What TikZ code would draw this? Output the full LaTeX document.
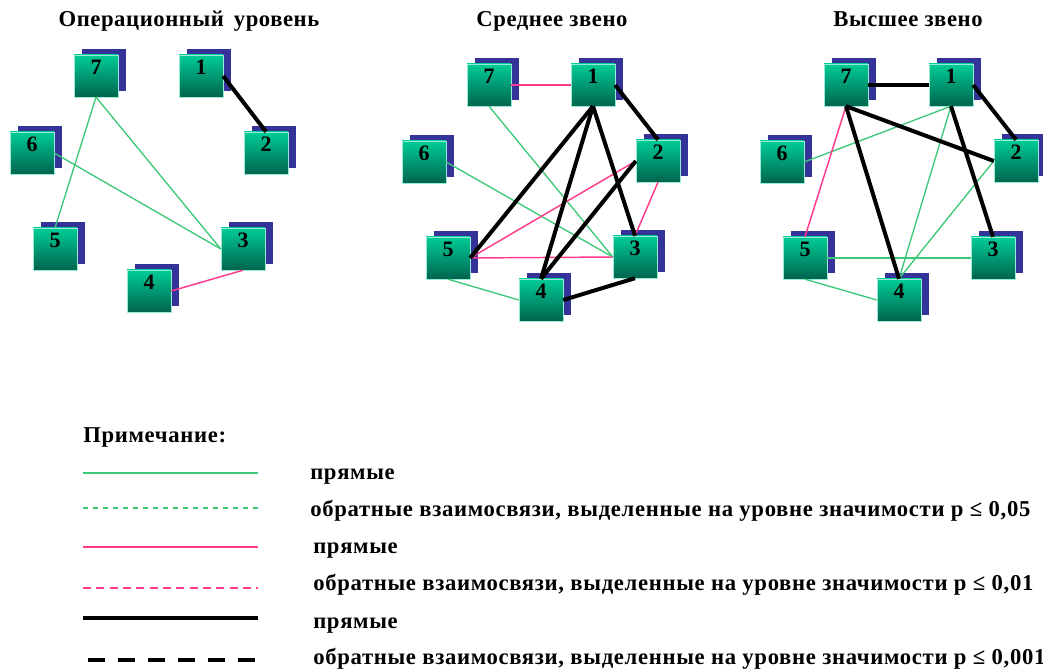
\documentclass[tikz,border=0pt]{standalone}
\usepackage{fontspec}
\setmainfont{Liberation Serif}
\newfontfamily\ttlfont[LetterSpace=2.5]{Liberation Serif}
\newfontfamily\lgfont[LetterSpace=3]{Liberation Serif}
\usetikzlibrary{shadows}
\definecolor{boxtop}{RGB}{0,204,150}
\definecolor{boxbot}{RGB}{0,100,78}
\definecolor{shadowblue}{RGB}{51,51,153}
\definecolor{lgreen}{RGB}{60,200,120}
\definecolor{lpink}{RGB}{255,60,140}
\tikzset{
  sq/.style={rectangle, minimum width=33pt, minimum height=31.5pt, inner sep=0pt,
    top color=boxtop, bottom color=boxbot, draw=boxtop!40!white, line width=0.3pt,
    general shadow={fill=shadowblue, draw=none, shadow xshift=6pt, shadow yshift=4.5pt}},
  num/.style={font=\fontsize{16.5}{18}\selectfont\bfseries},
  gl/.style={draw=lgreen, line width=1pt},
  pl/.style={draw=lpink, line width=1.1pt},
  bl/.style={draw=black, line width=3pt},
  ttl/.style={font=\ttlfont\fontsize{17}{19}\selectfont\bfseries, anchor=base},
  lgt/.style={font=\lgfont\fontsize{17}{19}\selectfont\bfseries, anchor=base west, inner sep=0pt},
}
\newcommand{\sqnode}[3]{\node[sq] (#1) at (#2) {}; \node[num] at ([yshift=6.5pt]#1.center) {#3};}
\begin{document}
\begin{tikzpicture}[x=0.75pt,y=-0.75pt]
\useasboundingbox (0,0) rectangle (1043,670);
% titles
\node[ttl] (t1) at (189,27) {Операционный\, уровень};
\node[ttl] (t2) at (552,27) {Среднее звено};
\node[ttl] (t3) at (908,27) {Высшее звено};
% left panel
\sqnode{L7}{96,76}{7}
\sqnode{L1}{201,76}{1}
\sqnode{L6}{32,153}{6}
\sqnode{L2}{266,153}{2}
\sqnode{L5}{55,249}{5}
\sqnode{L3}{243,249}{3}
\sqnode{L4}{149,291}{4}
\draw[gl] (L7.south) -- (L5.north);
\draw[gl] (L7.south) -- (L3.west);
\draw[gl] (L6.east) -- (L3.west);
\draw[bl] (L1.east) -- (L2.north);
\draw[pl] (L3.south) -- (L4.east);
% middle panel
\sqnode{M7}{489,85}{7}
\sqnode{M1}{593,85}{1}
\sqnode{M6}{424,162}{6}
\sqnode{M2}{658,161}{2}
\sqnode{M5}{448,258}{5}
\sqnode{M3}{635,257}{3}
\sqnode{M4}{541,300}{4}
\draw[gl] (M7.south) -- (M3.west);
\draw[gl] (M6.east) -- (M3.west);
\draw[gl] (M5.south) -- (M4.west);
\draw[pl] (M7.east) -- (M1.west);
\draw[pl] (M2.west) -- (M5.east);
\draw[pl] (M2.south) -- (M3.north);
\draw[pl] (M5.east) -- (M3.west);
\draw[bl] (M1.east) -- (M2.north);
\draw[bl] (M1.south) -- (M5.east);
\draw[bl] (M1.south) -- (M4.north);
\draw[bl] (M1.south) -- (M3.north);
\draw[bl] (M2.west) -- (M4.north);
\draw[bl] (M3.south) -- (M4.east);
% right panel
\sqnode{R7}{846,85}{7}
\sqnode{R1}{951,85}{1}
\sqnode{R6}{782,162}{6}
\sqnode{R2}{1016,161}{2}
\sqnode{R5}{805,258}{5}
\sqnode{R3}{993,258}{3}
\sqnode{R4}{899,300}{4}
\draw[gl] (R6.east) -- (R1.south);
\draw[gl] (R1.south) -- (R4.north);
\draw[gl] (R2.west) -- (R4.north);
\draw[gl] (R5.east) -- (R3.west);
\draw[gl] (R5.south) -- (R4.west);
\draw[pl] (R7.south) -- (R5.north);
\draw[bl] (R7.east) -- (R1.west);
\draw[bl] (R1.east) -- (R2.north);
\draw[bl] (R7.south) -- (R2.west);
\draw[bl] (R7.south) -- (R4.north);
\draw[bl] (R1.south) -- (R3.north);
% legend
\node[lgt] (note) at (83,442) {Примечание:};
\coordinate (a1) at (83,473); \coordinate (b1) at (258,473);
\coordinate (a2) at (83,508); \coordinate (b2) at (258,508);
\coordinate (a3) at (83,547); \coordinate (b3) at (258,547);
\coordinate (a4) at (83,588); \coordinate (b4) at (258,588);
\coordinate (a5) at (83,618); \coordinate (b5) at (258,618);
\coordinate (a6) at (88,660); \coordinate (b6) at (258,660);
\draw[gl] (a1) -- (b1);
\draw[gl, dash pattern=on 4pt off 3.5pt] (a2) -- (b2);
\draw[pl] (a3) -- (b3);
\draw[pl, dash pattern=on 6pt off 4pt] (a4) -- (b4);
\draw[bl] (a5) -- (b5);
\draw[bl, dash pattern=on 12.5pt off 10pt] (a6) -- (b6);
\node[lgt] (x1) at (310,479) {прямые};
\node[lgt] (x2) at (310,516) {обратные взаимосвязи, выделенные на уровне значимости p ≤ 0,05};
\node[lgt] (x3) at (313,553) {прямые};
\node[lgt] (x4) at (313,590) {обратные взаимосвязи, выделенные на уровне значимости p ≤ 0,01};
\node[lgt] (x5) at (313,628) {прямые};
\node[lgt] (x6) at (313,664) {обратные взаимосвязи, выделенные на уровне значимости p ≤ 0,001};
\end{tikzpicture}
\end{document}
